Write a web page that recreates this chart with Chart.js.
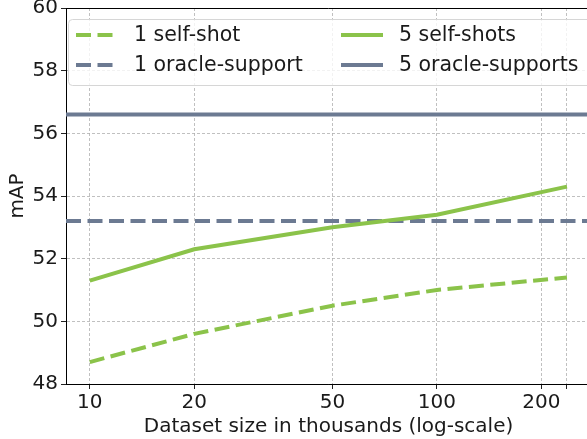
<!DOCTYPE html>
<html>
<head>
<meta charset="utf-8">
<script src="https://cdn.jsdelivr.net/npm/chart.js@4/dist/chart.umd.min.js"></script>
<style>
  html, body { margin: 0; padding: 0; background: #fff; overflow: hidden; }
  #wrap { width: 592px; height: 439px; }
</style>
</head>
<body>
<div id="wrap"><canvas id="chart" width="592" height="439"></canvas></div>
<script>
// Dataset sizes (thousands) and mAP values
const sizes = [10, 20, 50, 100, 237];
const selfShot1 = [48.7, 49.6, 50.5, 51.0, 51.4];
const selfShot5 = [51.3, 52.3, 53.0, 53.4, 54.3];
const oracle1 = 53.2;
const oracle5 = 56.6;

// Axis setup
const xMin = 8.54, xMax = 278;
const xTicks = [10, 20, 50, 100, 200, 237];
const xTickLabels = ['10', '20', '50', '100', '200', ''];
const yTicks = [48, 50, 52, 54, 56, 58, 60];

const green = '#8bc34a';
const slate = '#6c7a92';
const font = 'DejaVu Sans';
const fontSize = 20;

const pts = (vals) => sizes.map((x, i) => ({ x: x, y: vals[i] }));
const flat = (v) => [{ x: xMin, y: v }, { x: xMax, y: v }];

// Legend drawn inside the plot, two columns
const legendPlugin = {
    id: 'boxLegend',
    afterDraw(chart) {
        const ctx = chart.ctx;
        const ds = chart.data.datasets;
        ctx.save();
        // box
        ctx.beginPath();
        ctx.roundRect(68.5, 19.5, 523, 66, 4);
        ctx.fillStyle = 'rgba(255,255,255,0.8)';
        ctx.fill();
        ctx.strokeStyle = '#d6d6d6';
        ctx.lineWidth = 1;
        ctx.stroke();
        const entries = [
            { d: ds[0], x: 76, y: 35 },
            { d: ds[1], x: 341, y: 35 },
            { d: ds[2], x: 76, y: 65 },
            { d: ds[3], x: 341, y: 65 }
        ];
        entries.forEach(e => {
            ctx.beginPath();
            ctx.setLineDash(e.d.borderDash || []);
            ctx.strokeStyle = e.d.borderColor;
            ctx.lineWidth = 4;
            ctx.moveTo(e.x, e.y);
            ctx.lineTo(e.x + 42, e.y);
            ctx.stroke();
            ctx.setLineDash([]);
            ctx.fillStyle = '#1a1a1a';
            ctx.font = '20.5px "' + font + '"';
            ctx.textBaseline = 'middle';
            ctx.fillText(e.d.label, e.x + 58, e.y + 1);
        });
        ctx.restore();
    },
    beforeDatasetsDraw(chart) {
        // top spine
        const a = chart.chartArea;
        const ctx = chart.ctx;
        ctx.save();
        ctx.strokeStyle = '#000';
        ctx.lineWidth = 1;
        ctx.beginPath();
        ctx.moveTo(a.left, a.top + 0.5);
        ctx.lineTo(a.right, a.top + 0.5);
        ctx.stroke();
        ctx.restore();
    }
};

const gridOpts = {
    color: '#b0b0b0',
    lineWidth: 0.8,
    tickColor: '#222',
    tickLength: 5,
    tickWidth: 1,
    tickBorderDash: []
};

const ctx = document.getElementById('chart').getContext('2d');
new Chart(ctx, {
    type: 'line',
    data: {
        datasets: [
            {
                label: '1 self-shot',
                data: pts(selfShot1),
                borderColor: green,
                borderWidth: 4,
                borderDash: [15, 6.5],
                pointRadius: 0,
                tension: 0
            },
            {
                label: '5 self-shots',
                data: pts(selfShot5),
                borderColor: green,
                borderWidth: 4,
                pointRadius: 0,
                tension: 0
            },
            {
                label: '1 oracle-support',
                data: flat(oracle1),
                borderColor: slate,
                borderWidth: 4,
                borderDash: [15, 6.5],
                pointRadius: 0
            },
            {
                label: '5 oracle-supports',
                data: flat(oracle5),
                borderColor: slate,
                borderWidth: 4,
                pointRadius: 0
            }
        ]
    },
    options: {
        responsive: false,
        animation: false,
        layout: { padding: { top: 8, right: 1, left: 0, bottom: 0 } },
        plugins: {
            legend: { display: false },
            tooltip: { enabled: false }
        },
        scales: {
            x: {
                type: 'logarithmic',
                min: xMin,
                max: xMax,
                afterBuildTicks: (s) => { s.ticks = xTicks.map(v => ({ value: v })); },
                afterFit: (s) => { s.height = 55; },
                ticks: {
                    autoSkip: false,
                    maxRotation: 0,
                    padding: 2,
                    color: '#1a1a1a',
                    font: { family: font, size: fontSize },
                    callback: (v) => xTickLabels[xTicks.indexOf(v)] ?? ''
                },
                grid: gridOpts,
                border: { display: true, color: '#000', width: 1, dash: [3, 2] },
                title: {
                    display: true,
                    text: 'Dataset size in thousands (log-scale)',
                    color: '#1a1a1a',
                    font: { family: font, size: fontSize },
                    padding: { top: 0, bottom: 0 }
                }
            },
            y: {
                min: 48,
                max: 60,
                afterBuildTicks: (s) => { s.ticks = yTicks.map(v => ({ value: v })); },
                afterFit: (s) => { s.width = 66; },
                ticks: {
                    padding: 3,
                    color: '#1a1a1a',
                    font: { family: font, size: fontSize, lineHeight: 0.5 }
                },
                grid: gridOpts,
                border: { display: true, color: '#000', width: 1, dash: [3, 2] },
                title: {
                    display: true,
                    text: 'mAP',
                    color: '#1a1a1a',
                    font: { family: font, size: fontSize },
                    padding: { top: 6, bottom: 0 }
                }
            }
        }
    },
    plugins: [legendPlugin]
});
</script>
</body>
</html>
